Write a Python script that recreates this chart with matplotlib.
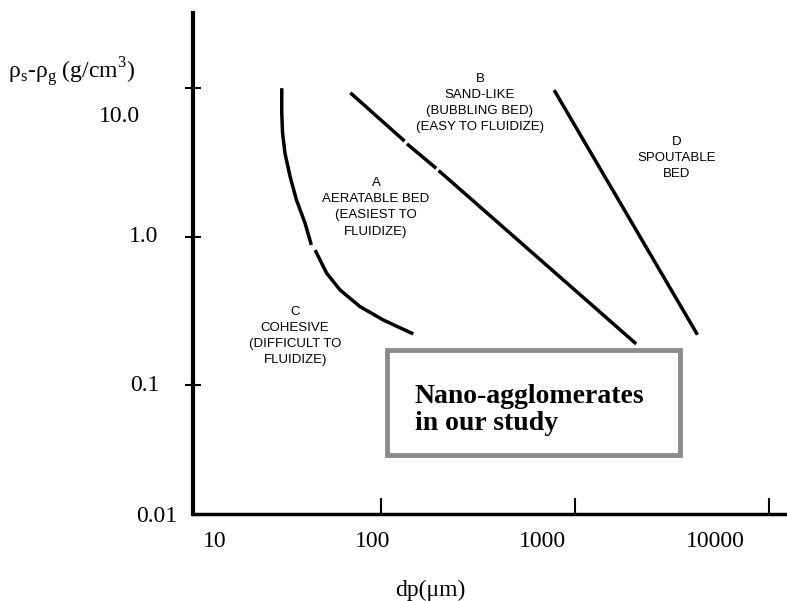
import numpy as np
import matplotlib
matplotlib.use("Agg")
import matplotlib.pyplot as plt
import matplotlib.transforms as mtransforms
from matplotlib.patches import Rectangle
from matplotlib.ticker import FixedLocator, FixedFormatter, NullFormatter, NullLocator

plt.rcParams["font.family"] = ["Liberation Serif", "DejaVu Serif"]
plt.rcParams["mathtext.fontset"] = "custom"
plt.rcParams["mathtext.rm"] = "Liberation Serif"

# boundary lines (dp in um, rho_s - rho_g in g/cm3)
# nan marks the small breaks in the printed lines
ca_dp = [30.8, 30.8, 31.1, 32.0, 34.0, 36.7, 40.6, 43.5, np.nan, 46.2, 52.5, 61.5, 77.9, 102.8, 144]
ca_rho = [9.77, 6.81, 4.99, 3.66, 2.55, 1.77, 1.24, 0.907, np.nan, 0.796, 0.570, 0.440, 0.340, 0.276, 0.225]
ab_dp = [70.6, 130.3, np.nan, 138.3, 189.7, np.nan, 201.4, 2037]
ab_rho = [9.18, 4.50, np.nan, 4.16, 2.95, np.nan, 2.75, 0.194]
bd_dp = [789, 4236]
bd_rho = [9.52, 0.225]

# region names
regions = ["C\nCOHESIVE\n(DIFFICULT TO\nFLUIDIZE)",
           "A\nAERATABLE BED\n(EASIEST TO\nFLUIDIZE)",
           "B\nSAND-LIKE\n(BUBBLING BED)\n(EASY TO FLUIDIZE)",
           "D\nSPOUTABLE\nBED"]
region_dp = [36.1, 94.2, 323.6, 3357]
region_rho = [0.214, 1.58, 7.99, 3.42]

# box with our nano-agglomerates
box_dp = [107.4, 3475]
box_rho = [0.034, 0.173]
box_lines = ["Nano-agglomerates", "in our study"]
box_line_rho = [0.0759, 0.0501]

# axis labels (printed a bit off the tick marks in the original)
x_labels = ["10", "100", "1000", "10000"]
x_label_pos = [13.9, 91.0, 684, 5270]
x_marks = [100, 1000, 10000]
y_labels = ["0.01", "0.1", "1.0", "10.0"]
y_label_pos = [0.0132, 0.1, 1.0, 6.43]
y_label_right = [-0.0269, -0.0556, -0.0589, -0.0892]
y_marks = [0.1, 1, 10]

fig = plt.figure(figsize=(7.87, 6.01), dpi=100)
ax = fig.add_axes([193/787, 87/601, 594/787, 501/601])
ax.set_xscale("log")
ax.set_yscale("log")
ax.set_xlim(10.74, 12390)
ax.set_ylim(0.01364, 32.2)

for s in ["top", "right"]:
    ax.spines[s].set_visible(False)
ax.spines["left"].set_linewidth(3)
ax.spines["bottom"].set_linewidth(2.5)

# x ticks: labels as major (no mark), marks as minor
ax.xaxis.set_major_locator(FixedLocator(x_label_pos))
ax.xaxis.set_major_formatter(FixedFormatter(x_labels))
ax.xaxis.set_minor_locator(FixedLocator(x_marks))
ax.xaxis.set_minor_formatter(NullFormatter())
ax.tick_params(axis="x", which="major", length=0, pad=12, labelsize=17)
ax.tick_params(axis="x", which="minor", direction="in", length=11.5, width=1.5)

ax.yaxis.set_major_locator(NullLocator())
ax.yaxis.set_minor_locator(FixedLocator(y_marks))
ax.yaxis.set_minor_formatter(NullFormatter())
ax.tick_params(axis="y", which="minor", direction="inout", length=11, width=1.5)

trans = mtransforms.blended_transform_factory(ax.transAxes, ax.transData)
for lab, pos, xr in zip(y_labels, y_label_pos, y_label_right):
    ax.text(xr, pos, lab, transform=trans, ha="right", va="center", fontsize=17, clip_on=False)

ax.plot(ca_dp, ca_rho, color="black", lw=2.5)
ax.plot(ab_dp, ab_rho, color="black", lw=2.5)
ax.plot(bd_dp, bd_rho, color="black", lw=2.5)

for txt, xd, yd in zip(regions, region_dp, region_rho):
    ax.text(xd, yd, txt, ha="center", va="center", multialignment="center",
            fontsize=9.5, family=["Liberation Sans", "DejaVu Sans"], linespacing=1.45)

ax.add_patch(Rectangle((box_dp[0], box_rho[0]), box_dp[1] - box_dp[0], box_rho[1] - box_rho[0],
                       facecolor="white", edgecolor="#8c8c8c", lw=3.5))
for txt, yd in zip(box_lines, box_line_rho):
    ax.text(149.6, yd, txt, ha="left", va="baseline", fontsize=20, fontweight="bold")

fig.text(430/787, 1 - 590/601, "dp(\u03bcm)", ha="center", va="center", fontsize=17)
fig.text(8/787, 1 - 72/601, "\u03c1$_\\mathregular{s}$-\u03c1$_\\mathregular{g}$ (g/cm$^\\mathregular{3}$)",
         ha="left", va="center", fontsize=17)

fig.savefig("out.png", dpi=100)
